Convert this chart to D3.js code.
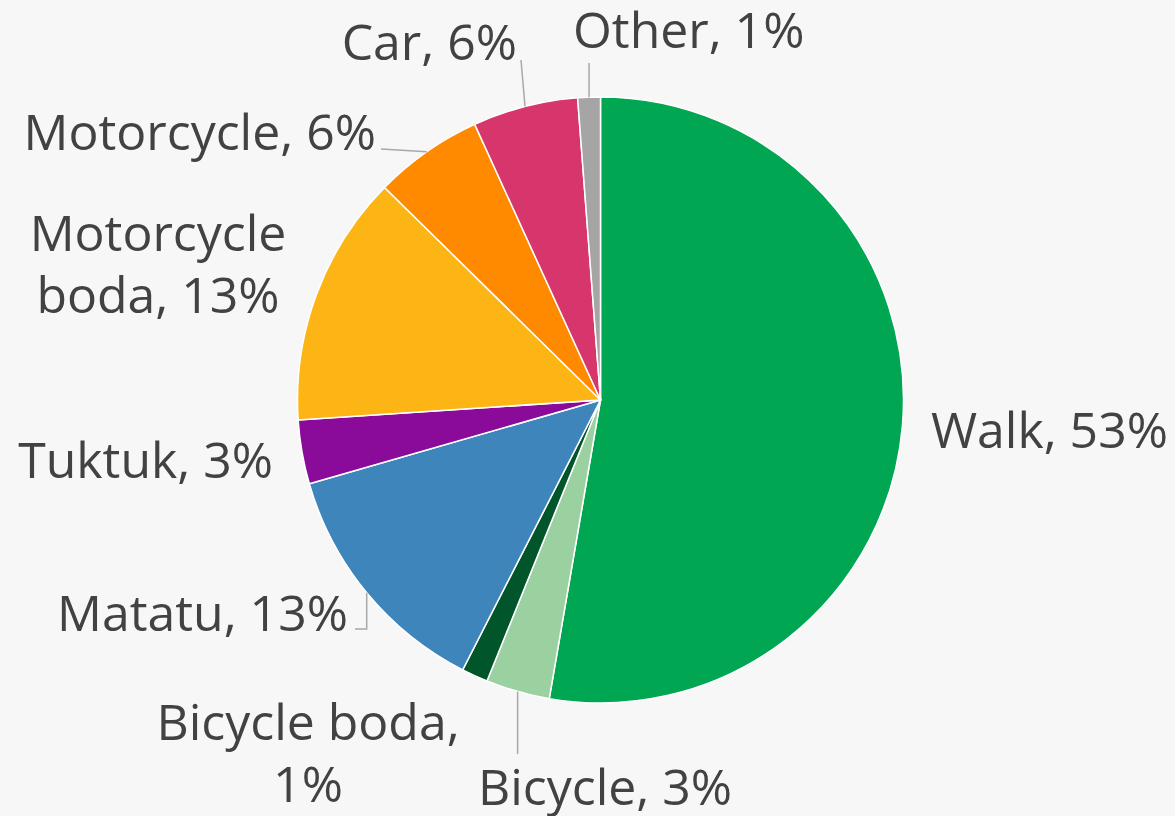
<!DOCTYPE html>
<html>
<head>
<meta charset="utf-8">
<script src="https://cdn.jsdelivr.net/npm/d3@7"></script>
<style>
  body { margin: 0; background: #f7f7f7; }
  svg { display: block; }
  .label { fill: #424242; font-family: "Open Sans", "Noto Sans", sans-serif; }
</style>
</head>
<body>
<div id="chart"></div>
<script>
// Share of trips by mode (percent), clockwise from 12 o'clock
var modes = ["Walk", "Bicycle", "Bicycle boda", "Matatu", "Tuktuk", "Motorcycle boda", "Motorcycle", "Car", "Other"];
var shares = [52.6, 3.4, 1.4, 13.0, 3.4, 13.4, 5.8, 5.6, 1.2];
var colors = ["#00a651", "#9bd1a1", "#00552b", "#3d85ba", "#8a0a99", "#fdb515", "#ff8a00", "#d6366b", "#a5a5a5"];

var width = 1175;
var height = 816;
var cx = 600.5, cy = 400, radius = 303;

// label placement (text anchor point + how the leader is drawn from the slice edge)
var labelLayout = {
  "Walk":            { x: 931, y: 448, anchor: "start", lines: 1 },
  "Bicycle":         { x: 478, y: 805, anchor: "start", lines: 1, leader: p => [p, [p[0], 754]] },
  "Bicycle boda":    { x: 308, y: 740, anchor: "middle", lines: 2 },
  "Matatu":          { x: 348, y: 631, anchor: "end", lines: 1, leader: p => [p, [p[0], 629], [355, 629]] },
  "Tuktuk":          { x: 273, y: 478, anchor: "end", lines: 1 },
  "Motorcycle boda": { x: 158, y: 251, anchor: "middle", lines: 2 },
  "Motorcycle":      { x: 376, y: 150, anchor: "end", lines: 1, leader: p => [p, [381, 149]] },
  "Car":             { x: 517, y: 60, anchor: "end", lines: 1, leader: p => [p, [521, 60]] },
  "Other":           { x: 573, y: 48, anchor: "start", lines: 1, leader: p => [p, [p[0], 63]] }
};

var data = modes.map((m, i) => ({ mode: m, value: shares[i], color: colors[i] }));

var svg = d3.select("#chart").append("svg")
  .attr("width", width)
  .attr("height", height);

svg.append("rect")
  .attr("width", width)
  .attr("height", height)
  .attr("fill", "#f7f7f7");

var pie = d3.pie().sort(null).value(d => d.value);
var arc = d3.arc().innerRadius(0).outerRadius(radius);
var arcs = pie(data);

var g = svg.append("g").attr("transform", "translate(" + cx + "," + cy + ")");

g.selectAll("path")
  .data(arcs)
  .enter()
  .append("path")
  .attr("d", arc)
  .attr("fill", d => d.data.color)
  .attr("stroke", "#ffffff")
  .attr("stroke-width", 1.5);

// size the font so "Walk, 53%" is as wide as in the original
var probe = svg.append("text").attr("class", "label").style("font-size", "100px").text("Walk, 53%");
var fontSize = 100 * 237 / probe.node().getComputedTextLength();
probe.remove();
var lineHeight = 62;

function labelText(d) {
  var txt = d.data.mode + ", " + Math.round(d.data.value) + "%";
  var lay = labelLayout[d.data.mode];
  if (lay.lines === 2) {
    var k = d.data.mode === "Bicycle boda" ? txt.indexOf("1%") : txt.indexOf(" ");
    return [txt.slice(0, k).trim(), txt.slice(k).trim()];
  }
  return [txt];
}

// leader lines
var line = d3.line();
arcs.forEach(function(d) {
  var lay = labelLayout[d.data.mode];
  if (!lay.leader) return;
  var mid = (d.startAngle + d.endAngle) / 2;
  var p = [cx + radius * Math.sin(mid), cy - radius * Math.cos(mid)];
  svg.append("path")
    .attr("d", line(lay.leader(p)))
    .attr("fill", "none")
    .attr("stroke", "#a8a8a8")
    .attr("stroke-width", 1.5);
});

// labels
var labels = svg.selectAll("text.label")
  .data(arcs)
  .enter()
  .append("text")
  .attr("class", "label")
  .style("font-size", fontSize + "px")
  .attr("text-anchor", d => labelLayout[d.data.mode].anchor)
  .attr("x", d => labelLayout[d.data.mode].x)
  .attr("y", d => labelLayout[d.data.mode].y);

labels.selectAll("tspan")
  .data(d => labelText(d).map(t => ({ t: t, x: labelLayout[d.data.mode].x })))
  .enter()
  .append("tspan")
  .attr("x", d => d.x)
  .attr("dy", (d, i) => i === 0 ? 0 : lineHeight)
  .text(d => d.t);
</script>
</body>
</html>
